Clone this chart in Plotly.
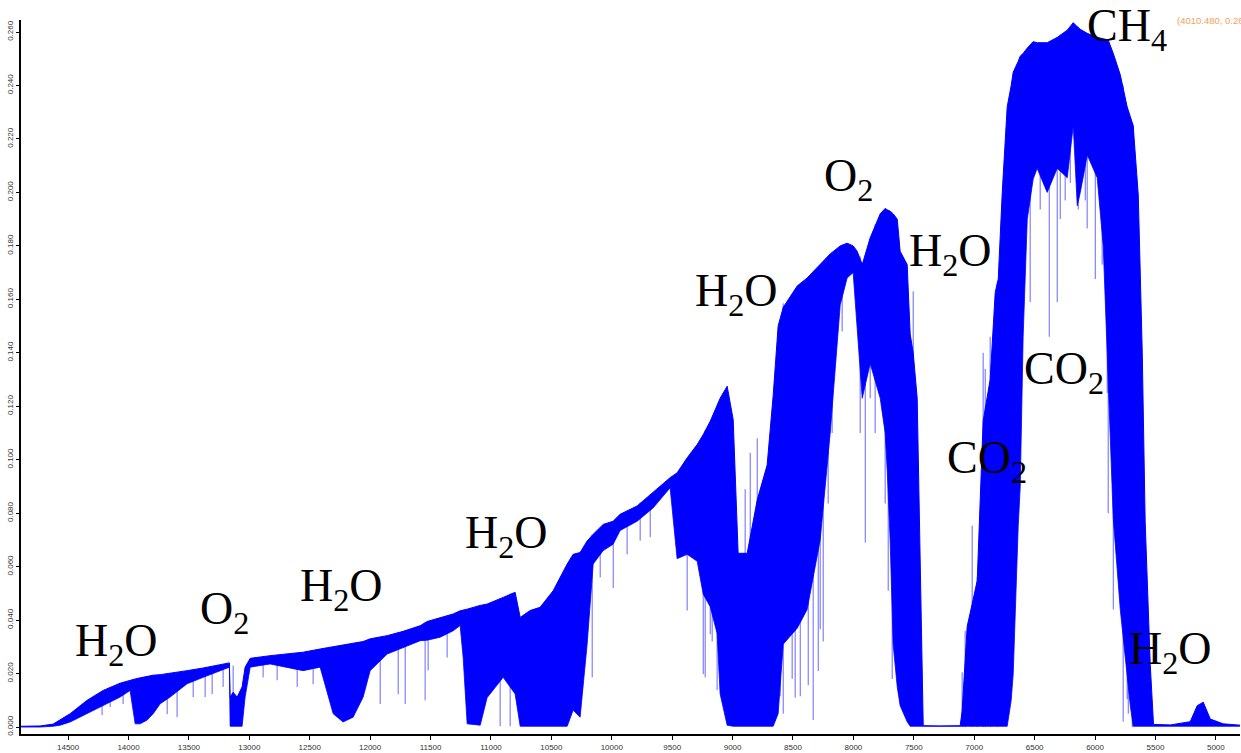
import plotly.graph_objects as go

# ---- spectrum envelope (wavenumber cm-1, upper envelope, lower edge of the dense line forest) ----
wavenumber = [14889, 14732, 14624, 14566, 14483, 14343, 14210, 14070, 13987, 13945, 13904, 13846,
              13796, 13738, 13656, 13515, 13382, 13242, 13176, 13165, 13159, 13134, 13101, 13060,
              13035, 12993, 12828, 12687, 12555, 12414, 12306, 12224, 12141, 12058, 12000, 11859,
              11727, 11586, 11528, 11421, 11313, 11255, 11230, 11197, 11089, 11032, 10899, 10800,
              10758, 10676, 10593, 10485, 10369, 10320, 10262, 10204, 10154, 10071, 9989, 9931,
              9790, 9657, 9517, 9459, 9376, 9293, 9243, 9185, 9128, 9103, 9045, 8995,
              8954, 8879, 8796, 8714, 8664, 8623, 8581, 8465, 8383, 8275, 8192, 8109,
              8052, 8002, 7969, 7927, 7861, 7778, 7737, 7720, 7696, 7671, 7637, 7613,
              7555, 7530, 7505, 7472, 7447, 7422, 7282, 7116, 7100, 7058, 7017, 6975,
              6926, 6868, 6826, 6801, 6768, 6727, 6694, 6677, 6636, 6619, 6595, 6561,
              6512, 6479, 6396, 6313, 6230, 6180, 6147, 6122, 6064, 5982, 5932, 5891,
              5849, 5791, 5734, 5708, 5684, 5642, 5609, 5585, 5543, 5516, 5376, 5212,
              5154, 5104, 5046, 4939, 4798]
upper = [0.0003, 0.0004, 0.0011, 0.0026, 0.0050, 0.0100, 0.0137, 0.0164, 0.0176, 0.0180, 0.0184, 0.0189,
         0.0194, 0.0196, 0.0201, 0.0211, 0.0221, 0.0234, 0.0239, 0.0240, 0.0112, 0.0130, 0.0112, 0.0150,
         0.0224, 0.0257, 0.0267, 0.0273, 0.0280, 0.0292, 0.0300, 0.0306, 0.0313, 0.0320, 0.0330, 0.0342,
         0.0358, 0.0379, 0.0395, 0.0410, 0.0423, 0.0435, 0.0437, 0.0441, 0.0455, 0.0460, 0.0485, 0.0504,
         0.0410, 0.0436, 0.0448, 0.0510, 0.0610, 0.0646, 0.0653, 0.0696, 0.0721, 0.0758, 0.0770, 0.0796,
         0.0827, 0.0877, 0.0933, 0.0951, 0.1007, 0.1057, 0.1094, 0.1144, 0.1200, 0.1230, 0.1275, 0.1150,
         0.0650, 0.0650, 0.0850, 0.0980, 0.1240, 0.1500, 0.1570, 0.1650, 0.1680, 0.1730, 0.1770, 0.1800,
         0.1810, 0.1800, 0.1780, 0.1730, 0.1830, 0.1920, 0.1940, 0.1935, 0.1930, 0.1920, 0.1900, 0.1780,
         0.1730, 0.1470, 0.1400, 0.1230, 0.0600, 0.0005, 0.0004, 0.0005, 0.0060, 0.0377, 0.0460, 0.0548,
         0.1145, 0.1300, 0.1626, 0.1676, 0.2000, 0.2320, 0.2400, 0.2450, 0.2490, 0.2510, 0.2520, 0.2540,
         0.2564, 0.2560, 0.2560, 0.2580, 0.2607, 0.2635, 0.2620, 0.2610, 0.2595, 0.2580, 0.2575, 0.2570,
         0.2520, 0.2440, 0.2320, 0.2280, 0.2250, 0.1990, 0.1400, 0.0770, 0.0234, 0.0010, 0.0008, 0.0020,
         0.0080, 0.0093, 0.0030, 0.0012, 0.0007]
lower = [0.0000, 0.0000, 0.0003, 0.0007, 0.0019, 0.0050, 0.0081, 0.0112, 0.0137, 0.0012, 0.0012, 0.0026,
         0.0050, 0.0087, 0.0112, 0.0162, 0.0186, 0.0211, 0.0224, 0.0224, 0.0003, 0.0003, 0.0003, 0.0003,
         0.0112, 0.0224, 0.0236, 0.0224, 0.0211, 0.0224, 0.0050, 0.0019, 0.0037, 0.0112, 0.0211, 0.0273,
         0.0298, 0.0323, 0.0325, 0.0336, 0.0360, 0.0380, 0.0260, 0.0012, 0.0007, 0.0110, 0.0186, 0.0124,
         0.0003, 0.0003, 0.0003, 0.0003, 0.0003, 0.0063, 0.0037, 0.0310, 0.0610, 0.0660, 0.0684, 0.0735,
         0.0770, 0.0820, 0.0895, 0.0630, 0.0646, 0.0620, 0.0497, 0.0450, 0.0350, 0.0124, 0.0007, 0.0003,
         0.0003, 0.0003, 0.0003, 0.0003, 0.0003, 0.0050, 0.0310, 0.0370, 0.0440, 0.0700, 0.1100, 0.1580,
         0.1680, 0.1700, 0.1500, 0.1230, 0.1360, 0.1230, 0.1100, 0.0960, 0.0700, 0.0310, 0.0150, 0.0080,
         0.0020, 0.0003, 0.0003, 0.0003, 0.0003, 0.0003, 0.0003, 0.0003, 0.0003, 0.0003, 0.0003, 0.0003,
         0.0003, 0.0003, 0.0003, 0.0003, 0.0003, 0.0003, 0.0100, 0.0200, 0.0750, 0.0900, 0.1460, 0.1900,
         0.2050, 0.2090, 0.2000, 0.2090, 0.2055, 0.2250, 0.1950, 0.2000, 0.2140, 0.2055, 0.1800, 0.1290,
         0.0780, 0.0440, 0.0190, 0.0080, 0.0003, 0.0003, 0.0003, 0.0003, 0.0003, 0.0003, 0.0003, 0.0003,
         0.0003, 0.0003, 0.0003, 0.0003, 0.0003]

# ---- individual absorption lines reaching beyond the dense band (position, top, bottom) ----
spike_wn = [14301, 14219, 14152, 14045, 13680, 13598, 13465, 13366, 13308, 13217, 13134, 12886, 12770,
            12604, 12472, 11917, 11768, 11710, 11545, 11520, 11363, 10924, 10841, 10162, 10096, 9988,
            9873, 9765, 9682, 9376, 9243, 9227, 9185, 9169, 9128, 9078, 8896, 8854, 8796,
            8606, 8581, 8507, 8482, 8440, 8374, 8333, 8291, 8275, 8250, 8209, 8176, 8093,
            7944, 7902, 7861, 7820, 7737, 7712, 7679, 7505,
            7100, 7075, 7017, 6975, 6926, 6909, 6868, 6810,
            6537, 6454, 6379, 6313, 6288, 6247, 6205, 6139, 6081, 6065, 5998, 5941, 5899, 5891,
            5849, 5767, 5734, 5725, 5692, 5684]
spike_hi = [0.0110, 0.0130, 0.0150, 0.0168, 0.0200, 0.0205, 0.0213, 0.0220, 0.0226, 0.0234, 0.0230, 0.0266, 0.0270,
            0.0276, 0.0285, 0.0334, 0.0355, 0.0362, 0.0392, 0.0395, 0.0415, 0.0480, 0.0500, 0.0720, 0.0740, 0.0770,
            0.0800, 0.0840, 0.0870, 0.1000, 0.1090, 0.1110, 0.1140, 0.1150, 0.1200, 0.1250, 0.0890, 0.1026, 0.1080,
            0.1520, 0.1585, 0.1620, 0.1630, 0.1650, 0.1680, 0.1700, 0.1710, 0.1720, 0.1730, 0.1760, 0.1770, 0.1800,
            0.1760, 0.1740, 0.1830, 0.1880, 0.1940, 0.1930, 0.1920, 0.1630,
            0.0205, 0.0360, 0.0753, 0.0560, 0.1400, 0.1340, 0.1460, 0.1660,
            0.2550, 0.2560, 0.2560, 0.2580, 0.2590, 0.2600, 0.2620, 0.2620, 0.2600, 0.2595, 0.2580, 0.2575, 0.2570, 0.2570,
            0.2520, 0.2400, 0.2320, 0.2300, 0.2260, 0.2250]
spike_lo = [0.0063, 0.0045, 0.0075, 0.0086, 0.0048, 0.0037, 0.0112, 0.0112, 0.0123, 0.0150, 0.0003, 0.0186, 0.0175,
            0.0150, 0.0160, 0.0086, 0.0123, 0.0086, 0.0100, 0.0212, 0.0260, 0.0003, 0.0003, 0.0186, 0.0560, 0.0520,
            0.0646, 0.0697, 0.0710, 0.0436, 0.0198, 0.0186, 0.0347, 0.0320, 0.0138, 0.0120, 0.0100, 0.0100, 0.0100,
            0.0115, 0.0050, 0.0180, 0.0110, 0.0115, 0.0157, 0.0026, 0.0210, 0.0366, 0.0320, 0.0836, 0.1100, 0.1480,
            0.1100, 0.0690, 0.1230, 0.1100, 0.0836, 0.0510, 0.0180, 0.0500,
            0.0000, 0.0000, 0.0000, 0.0000, 0.0000, 0.0000, 0.0000, 0.0000,
            0.1590, 0.1936, 0.1460, 0.1590, 0.1900, 0.1970, 0.2036, 0.1936, 0.1970, 0.1865, 0.1676, 0.1730, 0.1250, 0.0800,
            0.0440, 0.0020, 0.0104, 0.0050, 0.0000, 0.0034]

# ---- band labels ----
label_text = ["H<sub>2</sub>O", "O<sub>2</sub>", "H<sub>2</sub>O", "H<sub>2</sub>O", "H<sub>2</sub>O",
              "O<sub>2</sub>", "H<sub>2</sub>O", "CO<sub>2</sub>", "CO<sub>2</sub>", "CH<sub>4</sub>",
              "H<sub>2</sub>O"]
label_wn = [14099, 13209, 12236, 10874, 8970, 8043, 7195, 6893, 6255, 5734, 5378]
label_val = [0.0310, 0.0429, 0.0518, 0.0716, 0.1620, 0.2050, 0.1768, 0.0996, 0.1328, 0.2610, 0.0280]

x_ticks = list(range(5000, 15000, 500))
y_ticks = [i * 0.02 for i in range(14)]

BLUE = "rgb(0,0,255)"

fig = go.Figure()
fig.add_trace(go.Scatter(x=wavenumber, y=lower, mode="lines",
                         line=dict(color=BLUE, width=0.8), hoverinfo="skip", showlegend=False))
fig.add_trace(go.Scatter(x=wavenumber, y=upper, mode="lines", fill="tonexty", fillcolor=BLUE,
                         line=dict(color=BLUE, width=1), showlegend=False))

sx, sy = [], []
for w, hi, lo in zip(spike_wn, spike_hi, spike_lo):
    sx += [w, w, None]
    sy += [hi, lo, None]
fig.add_trace(go.Scatter(x=sx, y=sy, mode="lines", line=dict(color="rgba(0,0,255,0.6)", width=1),
                         hoverinfo="skip", showlegend=False))

for t, w, v in zip(label_text, label_wn, label_val):
    fig.add_annotation(x=w, y=v, text=t, showarrow=False, xanchor="center", yanchor="middle",
                       font=dict(family="Liberation Serif", size=46, color="black"))

fig.add_annotation(xref="paper", yref="paper", x=0.947, y=1.0, xanchor="left", yanchor="middle",
                   text="(4010.480, 0.267)", showarrow=False,
                   font=dict(family="Liberation Sans", size=9.5, color="#f5a05a"))

fig.update_layout(
    width=1241, height=753,
    margin=dict(l=21, r=1, t=20, b=16),
    paper_bgcolor="white", plot_bgcolor="white",
    xaxis=dict(range=[14890, 4800], tickvals=x_ticks, tickformat="d", showgrid=False, zeroline=False,
               showline=True, linecolor="black", linewidth=2, ticks="outside", ticklen=4,
               tickcolor="black", tickfont=dict(family="Liberation Sans", size=8, color="#333")),
    yaxis=dict(range=[-0.0026, 0.2645], tickvals=y_ticks, tickformat=".3f", tickangle=-90,
               showgrid=False, zeroline=False, showline=True, linecolor="black", linewidth=2,
               ticks="outside", ticklen=3, tickcolor="black",
               tickfont=dict(family="Liberation Sans", size=8, color="#333")),
)

fig.write_html("out.html", config={"displayModeBar": False},
               post_script="document.body.style.margin='0';document.body.style.overflow='hidden';")
